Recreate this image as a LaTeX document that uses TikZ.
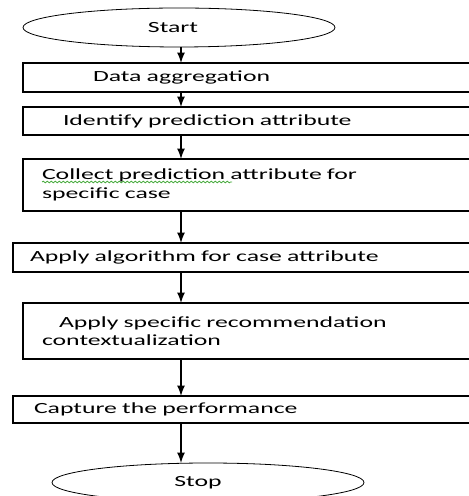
\documentclass[tikz,border=0pt]{standalone}
\usepackage{fontspec}
\setmainfont{Carlito}[FakeStretch=1.66]
\usetikzlibrary{shapes,arrows}
\usetikzlibrary{positioning}
\usetikzlibrary{decorations.pathmorphing}
\definecolor{spellgreen}{RGB}{70,170,60}
\newcommand\mybox[4][]{%
  \node[procbox,#1,inner xsep=#2pt] (#3) {#4};
}

\begin{document}
\begin{tikzpicture}[>=latex, x=0.5pt, y=-0.5pt,
font=\fontsize{7.75}{9.25}\selectfont,
terminal/.style={
  ellipse,
  draw,
  thin,
  outer sep=0pt,
  minimum width=156pt,
  minimum height=19.5pt,
  inner sep=0pt},
procbox/.style={
  rectangle,
  draw,
  thick,
  outer sep=0pt,
  text width=230pt,
  align=left,
  inner ysep=1pt}
]
\useasboundingbox (0,0) rectangle (469,496);
\clip (0,0) rectangle (469,496);
\coordinate (spine) at (181,0);
\node[terminal] (start) at (179,27.5) {Start\hspace*{6pt}};
\mybox[at={(23,63)}, anchor=north west, minimum height=14.5pt]{35}{data}{Data aggregation}
\mybox[below=7.5pt of data.south west, anchor=north west, minimum height=14pt]{20}{identify}{Identify prediction attribute}
\mybox[below=12pt of identify.south west, anchor=north west, minimum height=26pt]{9.5}{collect}{Collect prediction attribute for\\specific case}
\mybox[below=16pt of collect.south west, anchor=north west, xshift=-5pt, minimum height=14.5pt]{8.5}{algorithm}{Apply algorithm for case attribute}
\mybox[below=15.5pt of algorithm.south west, anchor=north west, xshift=5pt, minimum height=28pt]{9.5}{recommend}{\hspace*{8.5pt}Apply specific recommendation\\contextualization}
\mybox[below=18.5pt of recommend.south west, anchor=north west, xshift=-5pt, minimum height=13.5pt]{10.5}{capture}{Capture the performance}
\node[terminal, below=20pt of capture.south west, anchor=north, xshift=97.5pt] (stop) {Stop\hspace*{10pt}};
% spell-check squiggle
\draw[spellgreen, thin, decorate, decoration={snake, amplitude=0.4pt, segment length=2pt}] (42,182) -- (232,182);
\draw [->, thick] (start.south -| spine) -- (data.north -| spine);
\draw [->, thick] (data.south -| spine) -- (identify.north -| spine);
\draw [->, thick] (identify.south -| spine) -- (collect.north -| spine);
\draw [->, thick] (collect.south -| spine) -- (algorithm.north -| spine);
\draw [->, thick] (algorithm.south -| spine) -- (recommend.north -| spine);
\draw [->, thick] (recommend.south -| spine) -- (capture.north -| spine);
\draw [->, thick] (capture.south -| spine) -- (stop.north -| spine);
\end{tikzpicture}
\end{document}
